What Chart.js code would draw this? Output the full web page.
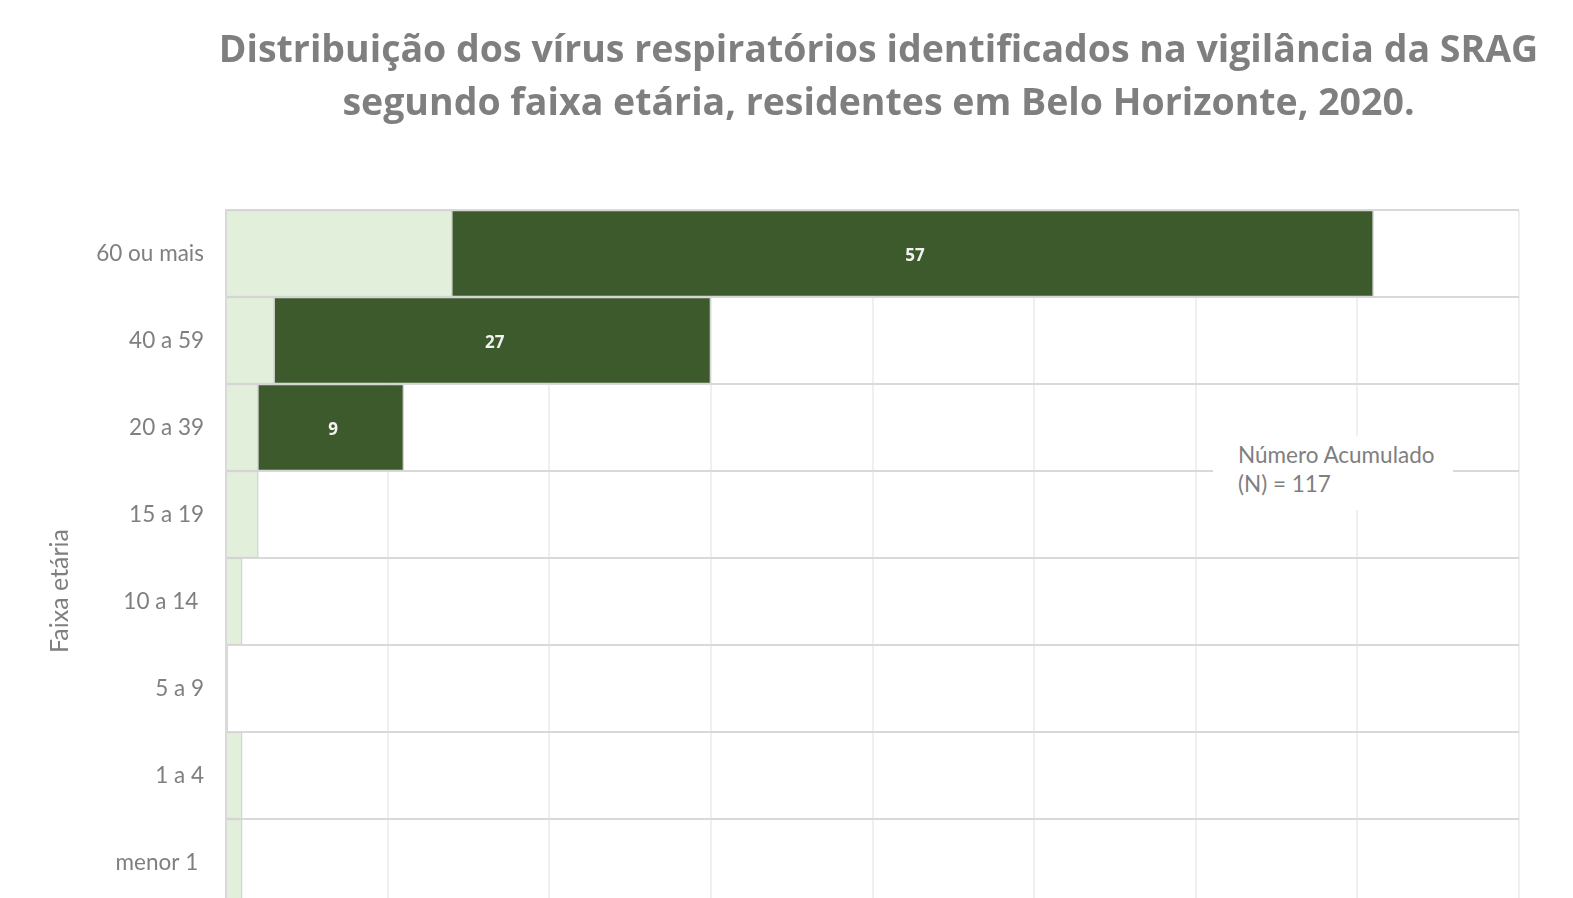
<!DOCTYPE html>
<html lang="pt">
<head>
    <meta charset="UTF-8">
    <title>SRAG - faixa etária</title>
    <style>
        body {
            margin: 0;
            padding: 0;
            background: #fff;
            overflow: hidden;
        }

        .wrap {
            position: relative;
            width: 1573px;
            height: 950px;
        }

        .titulo {
            position: absolute;
            left: 200px;
            width: 1357px;
            top: 21px;
            text-align: center;
            font-family: "Open Sans", sans-serif;
            font-weight: bold;
            font-size: 37.5px;
            line-height: 53px;
            color: #7f7f7f;
            white-space: nowrap;
        }

        .nota {
            position: absolute;
            left: 1213px;
            top: 436px;
            width: 240px;
            height: 74px;
            background: #fff;
            font-family: Lato, "Open Sans", sans-serif;
            font-size: 22.5px;
            line-height: 29px;
            color: #7f7f7f;
            padding: 4px 0 0 25px;
            box-sizing: border-box;
            white-space: nowrap;
        }
    </style>
</head>
<body>
    <div class="wrap">
        <canvas id="faixaChart" width="1573" height="950"></canvas>
        <div class="titulo">Distribuição dos vírus respiratórios identificados na vigilância da SRAG<br>segundo faixa etária, residentes em Belo Horizonte, 2020.</div>
        <div class="nota">Número Acumulado<br>(N) = 117</div>
    </div>

    <script src="https://cdn.jsdelivr.net/npm/chart.js"></script>
    <script>
        // dados
        const faixas = ["60 ou mais", "40 a 59", "20 a 39", "15 a 19", "10 a 14 ", "5 a 9", "1 a 4", "menor 1 "];
        const outrosVirus = [14, 3, 2, 2, 1, 0, 1, 1];
        const sarsCov2 = [57, 27, 9, 0, 0, 0, 0, 0];
        const eixoX = { min: 0, max: 80, passo: 10 };

        // rótulos brancos no centro das barras escuras
        const rotulos = {
            id: "rotulos",
            afterDatasetsDraw(chart) {
                const ctx = chart.ctx;
                const meta = chart.getDatasetMeta(1);
                ctx.save();
                ctx.font = "bold 17px 'Open Sans', sans-serif";
                ctx.fillStyle = "#f2f2f2";
                ctx.textAlign = "center";
                ctx.textBaseline = "middle";
                meta.data.forEach((bar, i) => {
                    const v = chart.data.datasets[1].data[i];
                    if (!v) return;
                    ctx.fillText(v, (bar.x + bar.base) / 2 + 2, bar.y + 3);
                });
                ctx.restore();
            }
        };

        // título do eixo vertical
        const tituloEixo = {
            id: "tituloEixo",
            afterDraw(chart) {
                const ctx = chart.ctx;
                ctx.save();
                ctx.translate(60, 591);
                ctx.rotate(-Math.PI / 2);
                ctx.font = "25px Lato, sans-serif";
                ctx.fillStyle = "#7f7f7f";
                ctx.textAlign = "center";
                ctx.textBaseline = "middle";
                ctx.fillText("Faixa etária", 0, 0);
                ctx.restore();
            }
        };

        const ctx = document.getElementById("faixaChart").getContext("2d");
        new Chart(ctx, {
            type: "bar",
            data: {
                labels: faixas,
                datasets: [{
                    label: "Outros vírus",
                    data: outrosVirus,
                    backgroundColor: "#e2efda",
                    borderColor: "#d4d4d4",
                    borderWidth: 1.5,
                    barPercentage: 1,
                    categoryPercentage: 1
                },
                {
                    label: "SARS-CoV-2",
                    data: sarsCov2,
                    backgroundColor: "#3c5a2b",
                    borderColor: "#d4d4d4",
                    borderWidth: 1.5,
                    barPercentage: 1,
                    categoryPercentage: 1
                }]
            },
            options: {
                indexAxis: "y",
                responsive: false,
                animation: false,
                layout: {
                    padding: { top: 210, right: 54, left: 0, bottom: 0 }
                },
                plugins: {
                    legend: { display: false },
                    tooltip: { enabled: false }
                },
                scales: {
                    x: {
                        stacked: true,
                        min: eixoX.min,
                        max: eixoX.max,
                        ticks: {
                            stepSize: eixoX.passo,
                            color: "#7f7f7f",
                            font: { family: "Lato", size: 22 }
                        },
                        grid: { color: "#efefef", lineWidth: 2, drawTicks: false },
                        border: { display: false },
                        afterFit(scale) { scale.height = 44; }
                    },
                    y: {
                        stacked: true,
                        ticks: {
                            color: "#7f7f7f",
                            padding: 22,
                            font: { family: "Lato", size: 22.5 }
                        },
                        grid: { color: "#d9d9d9", lineWidth: 2, offset: true, drawTicks: false },
                        border: { color: "#d9d9d9", width: 3 },
                        afterFit(scale) { scale.width = 226; }
                    }
                }
            },
            plugins: [rotulos, tituloEixo]
        });
    </script>
</body>
</html>
